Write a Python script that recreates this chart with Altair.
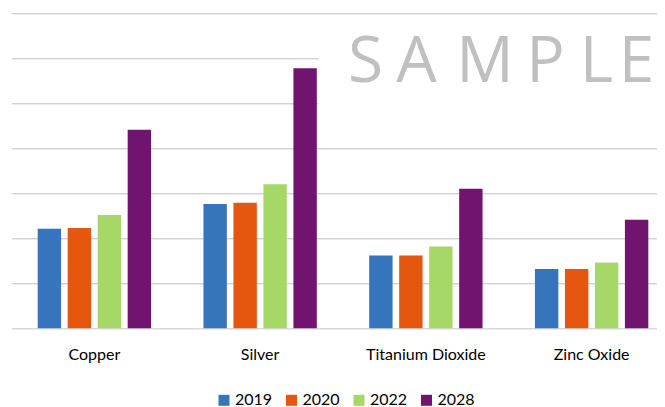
import altair as alt
import pandas as pd

categories = ["Copper", "Silver", "Titanium Dioxide", "Zinc Oxide"]
years = ["2019", "2020", "2022", "2028"]
v2019 = [2.21, 2.76, 1.62, 1.32]
v2020 = [2.23, 2.79, 1.62, 1.32]
v2022 = [2.52, 3.20, 1.82, 1.46]
v2028 = [4.41, 5.78, 3.10, 2.41]
colors = ["#3674bc", "#e5560e", "#a5d867", "#711470"]
grid_values = [1, 2, 3, 4, 5, 6, 7]
watermark = ["S", "A", "M", "P", "L", "E"]
watermark_x = [354, 405, 473.5, 534, 585, 625]

rows = []
for yr, vals in zip(years, [v2019, v2020, v2022, v2028]):
    for c, v in zip(categories, vals):
        rows.append({"category": c, "year": yr, "value": v})
df = pd.DataFrame(rows)

W, H = 645.5, 315

bars = alt.Chart(df).mark_bar().encode(
    x=alt.X("category:N", sort=categories,
            scale=alt.Scale(range=[0, 663], paddingInner=0.316, paddingOuter=0.158),
            axis=alt.Axis(title=None, labelAngle=0, ticks=False, domain=True,
                          domainColor="#d9d9d9", domainWidth=1.5, labelFont="Lato",
                          labelFontSize=16, labelColor="#000000", labelPadding=18,
                          grid=False)),
    xOffset=alt.XOffset("year:N", sort=years,
                        scale=alt.Scale(paddingInner=0.22, paddingOuter=0)),
    y=alt.Y("value:Q", scale=alt.Scale(domain=[0, 7], nice=False),
            axis=alt.Axis(title=None, values=grid_values, labels=False, ticks=False,
                          domain=False, gridColor="#bfbfbf", gridWidth=1)),
    color=alt.Color("year:N", sort=years,
                    scale=alt.Scale(domain=years, range=colors),
                    legend=alt.Legend(title=None, orient="none", legendX=204.5, legendY=379,
                                      direction="horizontal", symbolType="square",
                                      symbolSize=121, symbolStrokeWidth=0,
                                      labelFont="Lato", labelFontSize=16,
                                      labelColor="#000000", columnPadding=10.5,
                                      labelOffset=3, padding=0)),
)

dummy = pd.DataFrame({"a": [0]})
box = alt.Chart(dummy).mark_rect(color="white").encode(
    x=alt.value(307), x2=alt.value(660), y=alt.value(7), y2=alt.value(117)
)

layers = [box]
for ch, px in zip(watermark, watermark_x):
    layers.append(
        alt.Chart(dummy).mark_text(text=ch, font="Open Sans", fontSize=64, color="#c0c0c0",
                                   align="center", baseline="alphabetic").encode(
            x=alt.value(px), y=alt.value(68.4))
    )

chart = alt.layer(*layers, bars).properties(
    width=W, height=H,
    padding={"left": 3.5, "top": 5.3, "right": 0, "bottom": 78.7},
    autosize=alt.AutoSizeParams(type="none"),
    background="white",
).configure_view(stroke=None)

chart.save("out.html", embed_options={"renderer": "svg", "actions": False})
